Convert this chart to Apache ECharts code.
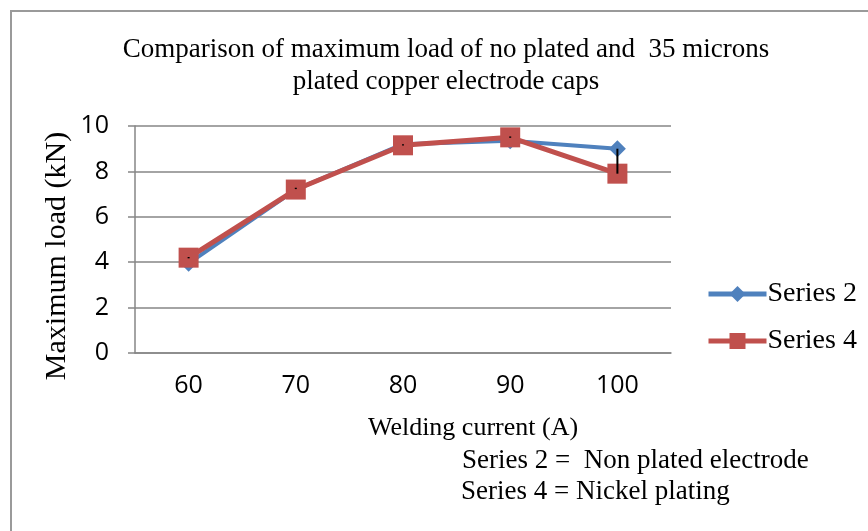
<!DOCTYPE html>
<html>
<head>
<meta charset="utf-8">
<script src="https://cdn.jsdelivr.net/npm/echarts@6/dist/echarts.min.js"></script>
<style>html,body{margin:0;padding:0;background:#fff}#c{width:868px;height:531px}</style>
</head>
<body>
<div id="c"></div>
<script>
const categories = ['60', '70', '80', '90', '100'];
const series2 = [3.95, 7.2, 9.2, 9.35, 9.0];
const series4 = [4.2, 7.2, 9.15, 9.5, 7.9];
const errLow = [4.17, 7.22, 9.14, 9.48, 7.9];
const errHigh = [4.23, 7.28, 9.2, 9.54, 9.0];
const yTicks = [0, 2, 4, 6, 8, 10];

const serif = 'Liberation Serif';
const chart = echarts.init(document.getElementById('c'));
chart.setOption({
  animation: false,
  backgroundColor: '#fff',
  title: {
    text: 'Comparison of maximum load of no plated and  35 microns\nplated copper electrode caps',
    left: 446, top: 34, textAlign: 'center', padding: 0,
    textStyle: { fontFamily: serif, fontSize: 27, fontWeight: 'normal', color: '#000', lineHeight: 32 }
  },
  grid: { left: 135, right: 197, top: 126, bottom: 178 },
  legend: {
    orient: 'vertical', left: 706, top: 280, itemGap: 19, padding: 0,
    itemWidth: 58, itemHeight: 20,
    lineStyle: { width: 5 },
    textStyle: { fontFamily: serif, fontSize: 28, color: '#000', padding: [0, 0, 0, -4] },
    data: ['Series 2', 'Series 4']
  },
  xAxis: {
    type: 'category', data: categories,
    axisLine: { lineStyle: { color: '#868686', width: 1.5 } },
    axisTick: { show: false },
    axisLabel: { fontFamily: 'Open Sans', fontSize: 25, color: '#000', margin: 20 }
  },
  yAxis: {
    type: 'value', min: yTicks[0], max: yTicks[yTicks.length - 1], interval: 2,
    axisLine: { show: true, lineStyle: { color: '#868686', width: 1.5 } },
    axisTick: { show: true, length: 7, lineStyle: { color: '#868686', width: 1.5 } },
    splitLine: { lineStyle: { color: '#868686', width: 1.5 } },
    axisLabel: { fontFamily: 'Open Sans', fontSize: 25, color: '#000', margin: 26 }
  },
  series: [
    {
      name: 'Series 2', type: 'line', data: series2,
      symbol: 'diamond', symbolSize: 17,
      lineStyle: { color: '#4F81BD', width: 4 },
      itemStyle: { color: '#4F81BD' }, z: 2
    },
    {
      name: 'Series 4', type: 'line', data: series4,
      symbol: 'rect', symbolSize: 20,
      lineStyle: { color: '#C0504D', width: 5 },
      itemStyle: { color: '#C0504D' }, z: 3
    },
    {
      name: 'err', type: 'custom', z: 5,
      data: categories.map((c, i) => [i, errLow[i], errHigh[i]]),
      renderItem: function (params, api) {
        const p1 = api.coord([api.value(0), api.value(1)]);
        const p2 = api.coord([api.value(0), api.value(2)]);
        return { type: 'line', shape: { x1: p1[0], y1: p1[1], x2: p2[0], y2: p2[1] }, style: { stroke: '#000', lineWidth: 2 } };
      }
    }
  ],
  graphic: [
    { type: 'rect', shape: { x: 11, y: 11, width: 900, height: 600 }, style: { fill: null, stroke: '#9a9a9a', lineWidth: 2 }, silent: true },
    { type: 'text', x: 57, y: 256, rotation: Math.PI / 2, style: { text: 'Maximum load (kN)', font: '30px "Liberation Serif"', fill: '#000', align: 'center', verticalAlign: 'middle' } },
    { type: 'text', x: 473, y: 428, style: { text: 'Welding current (A)', font: '26px "Liberation Serif"', fill: '#000', align: 'center', verticalAlign: 'middle' } },
    { type: 'text', left: 462, top: 447, style: { text: 'Series 2 =  Non plated electrode', font: '27px "Liberation Serif"', fill: '#000' } },
    { type: 'text', left: 461, top: 478, style: { text: 'Series 4 = Nickel plating', font: '27px "Liberation Serif"', fill: '#000' } }
  ]
});
</script>
</body>
</html>
